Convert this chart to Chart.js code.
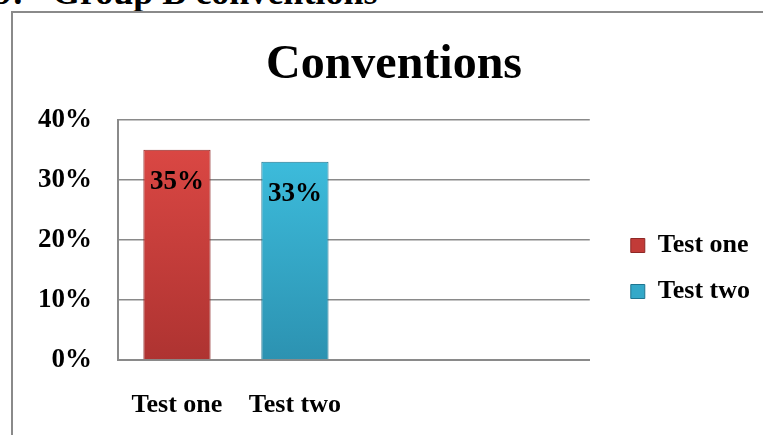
<!DOCTYPE html>
<html><head><meta charset="utf-8">
<script src="https://cdn.jsdelivr.net/npm/chart.js@4"></script>
<style>
html,body{margin:0;padding:0;background:#fff;overflow:hidden;width:763px;height:435px;}
.cap{position:absolute;top:-29px;font:bold 36px 'Liberation Serif','Times New Roman',serif;color:#000;white-space:nowrap;line-height:normal;}
#frame{position:absolute;left:11px;top:11px;width:770px;height:440px;border:2px solid #8a8a8a;box-sizing:border-box;}
#wrap{position:absolute;left:0;top:0;width:763px;height:435px;}
</style></head><body>
<div class="cap" style="left:-6px">9:</div>
<div class="cap" style="left:52px">Group B conventions</div>
<div id="frame"></div>
<div id="wrap"><canvas id="c" width="763" height="435"></canvas></div>
<script>
const categories = ['Test one', 'Test two', '', ''];
const seriesNames = ['Test one', 'Test two'];
const testOne = [35, null, null, null];
const testTwo = [null, 33, null, null];
const yTicks = [0, 10, 20, 30, 40];

const FONT = "'Liberation Serif','Times New Roman',serif";

function vgrad(ctx, top, bottom) {
  const chart = ctx.chart;
  const a = chart.chartArea;
  if (!a) return top;
  const g = chart.ctx.createLinearGradient(0, a.top, 0, a.bottom);
  g.addColorStop(0, top);
  g.addColorStop(1, bottom);
  return g;
}

const valueLabels = {
  id: 'valueLabels',
  afterDatasetsDraw(chart) {
    const ctx = chart.ctx;
    ctx.save();
    ctx.font = 'bold 27px ' + FONT;
    ctx.fillStyle = '#000';
    ctx.textAlign = 'center';
    ctx.textBaseline = 'middle';
    chart.data.datasets.forEach((ds, di) => {
      const meta = chart.getDatasetMeta(di);
      meta.data.forEach((bar, i) => {
        const v = ds.data[i];
        if (v === null || v === undefined) return;
        ctx.fillText(v + '%', bar.x, bar.y + 32);
      });
    });
    ctx.restore();
  }
};

new Chart(document.getElementById('c'), {
  type: 'bar',
  data: {
    labels: categories,
    datasets: [
      { label: seriesNames[0], data: testOne,
        backgroundColor: c => vgrad(c, '#e04a46', '#ae3331'),
        borderColor: '#8e2826', borderWidth: 1 },
      { label: seriesNames[1], data: testTwo,
        backgroundColor: c => vgrad(c, '#40c4e4', '#2c92b1'),
        borderColor: '#1f7590', borderWidth: 1 }
    ]
  },
  options: {
    responsive: false,
    animation: false,
    devicePixelRatio: 1,
    grouped: false,
    datasets: { bar: { categoryPercentage: 1, barPercentage: 0.57, grouped: false } },
    layout: { padding: { left: 28, top: 12, right: 3, bottom: 0 } },
    plugins: {
      title: {
        display: true, text: 'Conventions', color: '#000',
        font: { family: FONT, size: 48, weight: 'bold' },
        padding: { top: 25, bottom: 25 }
      },
      legend: {
        display: true, position: 'right', align: 'center', maxWidth: 200,
        title: { display: true, text: ' ', font: { size: 10 }, padding: { top: 78, bottom: 0 } },
        labels: {
          color: '#000', boxWidth: 14, boxHeight: 14, padding: 20,
          font: { family: FONT, size: 26, weight: 'bold' },
          generateLabels(chart) {
            return chart.data.datasets.map((ds, i) => ({
              text: ds.label,
              fillStyle: i === 0 ? '#c23b38' : '#33a8c8',
              strokeStyle: i === 0 ? '#8e2826' : '#1f7590',
              fontColor: '#000',
              hidden: false,
              lineWidth: 1,
              datasetIndex: i
            }));
          }
        }
      },
      tooltip: { enabled: false }
    },
    scales: {
      x: {
        grid: { display: false, drawTicks: false },
        border: { display: true, color: '#8a8a8a', width: 2 },
        ticks: { color: '#000', padding: 30, maxRotation: 0, autoSkip: false,
          font: { family: FONT, size: 26, weight: 'bold' } },
        afterFit(s) { s.height = 75; }
      },
      y: {
        min: 0, max: 40,
        afterBuildTicks(s) { s.ticks = yTicks.map(v => ({ value: v })); },
        grid: { color: '#8a8a8a', lineWidth: 1.5, drawTicks: false },
        border: { display: true, color: '#8a8a8a', width: 2 },
        ticks: { color: '#000', padding: 26,
          font: { family: FONT, size: 27, weight: 'bold' },
          callback: v => v + '%' },
        afterFit(s) { s.width = 90; }
      },
      yR: {
        position: 'right', display: true,
        grid: { display: false, drawTicks: false },
        border: { display: false },
        ticks: { display: false },
        afterFit(s) { s.width = 21; }
      }
    }
  },
  plugins: [valueLabels]
});
</script>
</body></html>
